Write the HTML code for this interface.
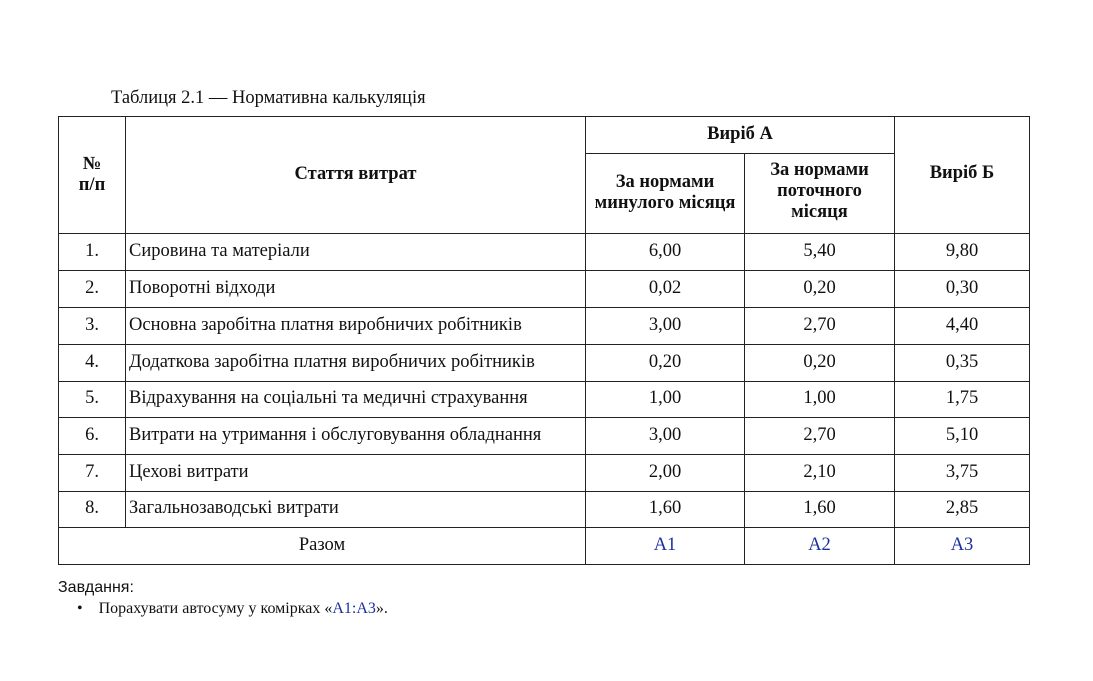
<!DOCTYPE html>
<html><head><meta charset="utf-8"><style>
body{margin:0;width:1093px;height:681px;background:#fff;font-family:"Liberation Serif",serif;color:#111;position:relative;overflow:hidden}
.cap{position:absolute;left:111px;top:88px;font-size:18.5px}
table{position:absolute;left:58px;top:116px;border-collapse:collapse;table-layout:fixed;font-size:18.5px}
td{border:1px solid #222;padding:0 0 3px 0;text-align:center;vertical-align:middle;line-height:20px}
th{border:1px solid #222;padding:0;font-weight:bold;font-size:18.5px;line-height:21px;vertical-align:middle}
td.l{text-align:left;padding-left:3px}
.b{color:#1a2fa0}
.z{position:absolute;left:58px;top:579px;font-family:"Liberation Sans",sans-serif;font-size:16px}
.li{position:absolute;left:77px;top:600px;font-size:16px}
</style></head><body>
<div class="cap">Таблиця 2.1 — Нормативна калькуляція</div>
<table>
<colgroup><col style="width:67px"><col style="width:460px"><col style="width:159px"><col style="width:150px"><col style="width:135px"></colgroup>
<tr style="height:37px"><th rowspan="2">№<br>п/п</th><th rowspan="2" style="padding-bottom:2px">Стаття витрат</th><th colspan="2" style="padding-bottom:2px">Виріб А</th><th rowspan="2" style="padding-bottom:4px">Виріб Б</th></tr>
<tr style="height:80px"><th style="padding-bottom:2px">За нормами<br>минулого місяця</th><th style="padding-bottom:4px">За нормами<br>поточного<br>місяця</th></tr>
<tr style="height:37px"><td>1.</td><td class="l">Сировина та матеріали</td><td>6,00</td><td>5,40</td><td>9,80</td></tr>
<tr style="height:37px"><td>2.</td><td class="l">Поворотні відходи</td><td>0,02</td><td>0,20</td><td>0,30</td></tr>
<tr style="height:37px"><td>3.</td><td class="l">Основна заробітна платня виробничих робітників</td><td>3,00</td><td>2,70</td><td>4,40</td></tr>
<tr style="height:37px"><td>4.</td><td class="l">Додаткова заробітна платня виробничих робітників</td><td>0,20</td><td>0,20</td><td>0,35</td></tr>
<tr style="height:36px"><td>5.</td><td class="l">Відрахування на соціальні та медичні страхування</td><td>1,00</td><td>1,00</td><td>1,75</td></tr>
<tr style="height:37px"><td>6.</td><td class="l">Витрати на утримання і обслуговування обладнання</td><td>3,00</td><td>2,70</td><td>5,10</td></tr>
<tr style="height:37px"><td>7.</td><td class="l">Цехові витрати</td><td>2,00</td><td>2,10</td><td>3,75</td></tr>
<tr style="height:36px"><td>8.</td><td class="l">Загальнозаводські витрати</td><td>1,60</td><td>1,60</td><td>2,85</td></tr>
<tr style="height:37px"><td colspan="2">Разом</td><td class="b">A1</td><td class="b">A2</td><td class="b">A3</td></tr>
</table>
<div class="z">Завдання:</div>
<div class="li">•&nbsp;&nbsp;&nbsp;&nbsp;Порахувати автосуму у комірках «<span class="b">A1:A3</span>».</div>
</body></html>
